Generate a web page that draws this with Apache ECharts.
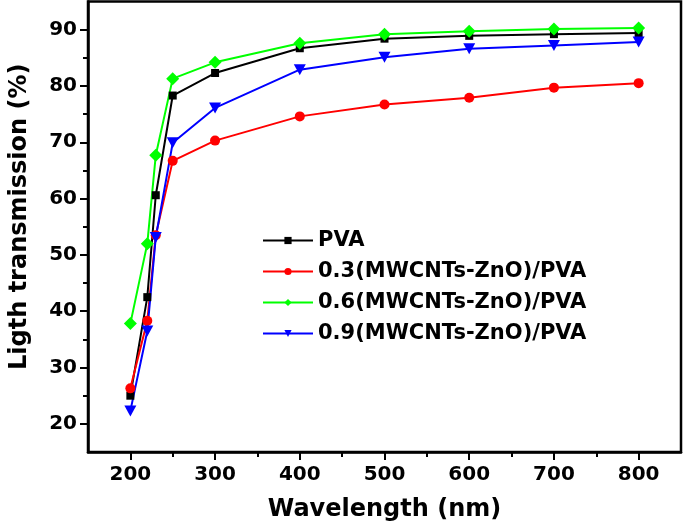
<!DOCTYPE html>
<html><head><meta charset="utf-8">
<script src="https://cdn.jsdelivr.net/npm/echarts@6/dist/echarts.min.js"></script>
<style>html,body{margin:0;padding:0;background:#fff}#c{width:685px;height:527px}</style>
</head><body><div id="c"></div>
<script>
const wavelengths = [200, 220, 230, 250, 300, 400, 500, 600, 700, 800];
const pva   = [25.0, 42.5, 60.6, 78.3, 82.3, 86.7, 88.4, 88.9, 89.2, 89.4];
const mz03  = [26.3, 38.3, 53.5, 66.7, 70.3, 74.6, 76.7, 77.9, 79.7, 80.5];
const mz06  = [37.8, 52.0, 67.7, 81.3, 84.2, 87.6, 89.2, 89.7, 90.1, 90.3];
const mz09  = [22.3, 36.5, 53.1, 69.9, 76.1, 82.9, 85.1, 86.6, 87.2, 87.8];
const seriesNames = ['PVA', '0.3(MWCNTs-ZnO)/PVA', '0.6(MWCNTs-ZnO)/PVA', '0.9(MWCNTs-ZnO)/PVA'];
const xMajorTicks = [200, 300, 400, 500, 600, 700, 800];
const xMinorTicks = [250, 350, 450, 550, 650, 750];
const yMajorTicks = [20, 30, 40, 50, 60, 70, 80, 90];
const yMinorTicks = [25, 35, 45, 55, 65, 75, 85];
const xTitle = 'Wavelength (nm)';
const yTitle = 'Ligth transmission (%)';

const FONT = 'DejaVu Sans';
const pair = arr => wavelengths.map((w, i) => [w, arr[i]]);

const chart = echarts.init(document.getElementById('c'), null, {renderer: 'canvas'});
const axisLineStyle = {color: '#000', width: 2.5};
const baseX = {type: 'value', min: 150, max: 850, gridIndex: 0, splitLine: {show: false}};
const baseY = {type: 'value', min: 15, max: 95, gridIndex: 0, splitLine: {show: false}};

chart.setOption({
  animation: false,
  backgroundColor: '#fff',
  grid: {left: 83, right: 4, top: 1.5, bottom: 75, show: true, borderColor: '#000', borderWidth: 2.5, backgroundColor: 'transparent'},
  xAxis: [
    Object.assign({}, baseX, {
      name: xTitle, nameLocation: 'middle', nameGap: 46,
      nameTextStyle: {fontFamily: FONT, fontWeight: 'bold', fontSize: 24, color: '#000'},
      axisLine: {show: true, onZero: false, lineStyle: axisLineStyle},
      axisTick: {show: true, inside: false, length: 8, lineStyle: {color: '#000', width: 2}, customValues: xMajorTicks},
      axisLabel: {show: true, margin: 13, fontFamily: FONT, fontWeight: 'bold', fontSize: 20, color: '#000', customValues: xMajorTicks}
    }),
    Object.assign({}, baseX, {
      position: 'bottom',
      axisLine: {show: false},
      axisTick: {show: true, inside: false, length: 5, lineStyle: {color: '#000', width: 2}, customValues: xMinorTicks},
      axisLabel: {show: false}
    })
  ],
  yAxis: [
    Object.assign({}, baseY, {
      name: yTitle, nameLocation: 'middle', nameGap: 56, nameRotate: 90,
      nameTextStyle: {fontFamily: FONT, fontWeight: 'bold', fontSize: 24, color: '#000', padding: [0, 0, 0, 20]},
      axisLine: {show: true, onZero: false, lineStyle: axisLineStyle},
      axisTick: {show: true, inside: false, length: 8, lineStyle: {color: '#000', width: 2}, customValues: yMajorTicks},
      axisLabel: {show: true, margin: 11, fontFamily: FONT, fontWeight: 'bold', fontSize: 20, color: '#000', customValues: yMajorTicks}
    }),
    Object.assign({}, baseY, {
      position: 'left',
      axisLine: {show: false},
      axisTick: {show: true, inside: false, length: 5, lineStyle: {color: '#000', width: 2}, customValues: yMinorTicks},
      axisLabel: {show: false}
    })
  ],
  legend: {
    left: 257, top: 225, orient: 'vertical',
    itemWidth: 50, itemHeight: 9, itemGap: 10,
    textStyle: {fontFamily: FONT, fontWeight: 'bold', fontSize: 21, color: '#000', lineHeight: 21},
    data: seriesNames
  },
  series: [
    {name: seriesNames[0], type: 'line', data: pair(pva), symbol: 'rect', symbolSize: 8,
     itemStyle: {color: '#000'}, lineStyle: {color: '#000', width: 2}},
    {name: seriesNames[1], type: 'line', data: pair(mz03), symbol: 'circle', symbolSize: 10,
     itemStyle: {color: '#ff0000'}, lineStyle: {color: '#ff0000', width: 2}},
    {name: seriesNames[2], type: 'line', data: pair(mz06), symbol: 'diamond', symbolSize: [13, 13],
     itemStyle: {color: '#00ff00'}, lineStyle: {color: '#00ff00', width: 2}},
    {name: seriesNames[3], type: 'line', data: pair(mz09), symbol: 'triangle', symbolRotate: 180, symbolSize: [12, 11],
     itemStyle: {color: '#0000ff'}, lineStyle: {color: '#0000ff', width: 2}}
  ]
});
</script>
</body></html>
